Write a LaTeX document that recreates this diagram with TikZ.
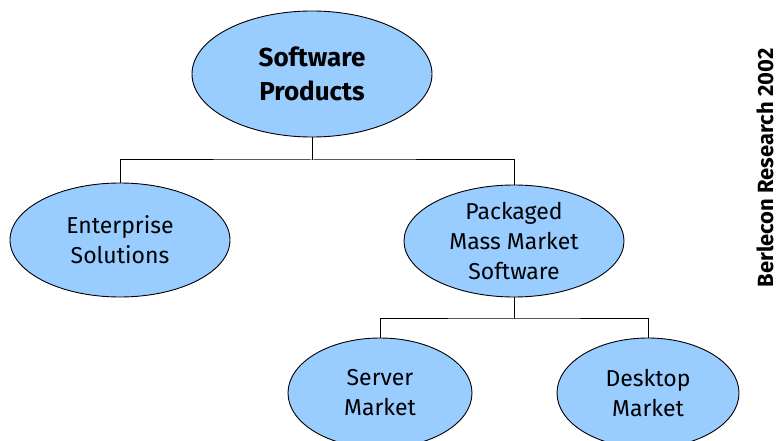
\documentclass[tikz,border=0pt]{standalone}
\usepackage{fontspec}
\setmainfont{Fira Sans}
\usetikzlibrary{shapes.geometric}
\definecolor{bubble}{HTML}{99CCFF}
\tikzset{
  bubble/.style={ellipse, draw=black, line width=0.9pt, fill=bubble,
    inner sep=0pt, align=center, font=\fontsize{23}{30}\selectfont},
  link/.style={draw=black, line width=1pt},
}
\begin{document}
\begin{tikzpicture}[x=1pt, y=-1pt]
  \useasboundingbox (0,0) rectangle (779,441);
  % nodes
  \node[bubble, minimum width=240pt, minimum height=126pt,
        font=\fontsize{26}{34}\selectfont\bfseries] (root) at (312,74) {Software\\Products};
  \node[bubble, minimum width=220pt, minimum height=114pt] (ent) at (120,240) {Enterprise\\Solutions};
  \node[bubble, minimum width=220pt, minimum height=112pt] (pkg) at (514,241) {Packaged\\Mass Market\\Software};
  \node[bubble, minimum width=184pt, minimum height=110pt] (srv) at (380,393) {Server\\Market};
  \node[bubble, minimum width=182pt, minimum height=110pt] (dsk) at (648,393) {Desktop\\Market};
  % branch points
  \coordinate (b1) at (312,160);
  \coordinate (b2) at (514,318);
  % connectors
  \draw[link] (root.south) -- (b1);
  \draw[link] (ent.north) |- (b1) -| (pkg.north);
  \draw[link] (pkg.south) -- (b2);
  \draw[link] (srv.north) |- (b2) -| (dsk.north);
  % side caption
  \node[rotate=90, inner sep=0pt, font=\fontsize{22}{26}\selectfont\bfseries] (credit) at (765,168) {Berlecon Research 2002};
\end{tikzpicture}
\end{document}
